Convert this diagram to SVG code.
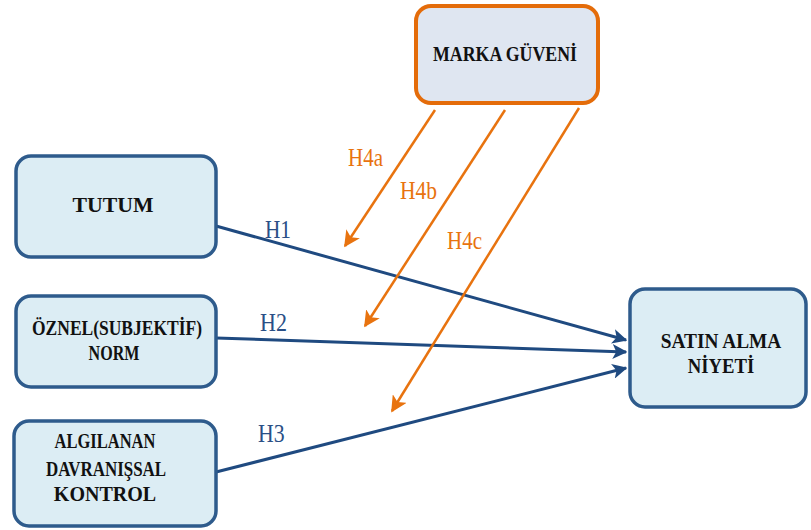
<svg xmlns="http://www.w3.org/2000/svg" width="811" height="530" viewBox="0 0 811 530">
<defs>
<style>
.box{fill:#dcedf4;stroke:#2e5b8c;stroke-width:3.5}
.obox{fill:#dfe6f1;stroke:#e46c0a;stroke-width:4}
.bl{stroke:#1f4a80;stroke-width:3;fill:none}
.ol{stroke:#e8730f;stroke-width:2.5;fill:none}
.t{font-family:"Liberation Serif",serif;font-weight:bold;font-size:22px;fill:#111;text-anchor:middle}
.lb{font-family:"Liberation Serif",serif;font-size:25px;fill:#2a4f86}
.lo{font-family:"Liberation Serif",serif;font-size:25px;fill:#e8730f}
</style>
<marker id="ab" viewBox="0 0 10 10" refX="9" refY="5" markerWidth="5" markerHeight="5" orient="auto" markerUnits="strokeWidth"><path d="M0,0 L10,5 L0,10 L2.5,5 z" fill="#1f4a80"/></marker>
<marker id="ao" viewBox="0 0 10 10" refX="9" refY="5" markerWidth="6.5" markerHeight="6.5" orient="auto" markerUnits="strokeWidth"><path d="M0,0 L10,5 L0,10 L2.5,5 z" fill="#e8730f"/></marker>
</defs>
<g id="connectors">
<line class="bl" x1="216" y1="226" x2="626" y2="340" marker-end="url(#ab)"/>
<line class="bl" x1="216" y1="338" x2="626" y2="352" marker-end="url(#ab)"/>
<line class="bl" x1="216" y1="472" x2="626" y2="368" marker-end="url(#ab)"/>
<line class="ol" x1="435" y1="110" x2="345" y2="246" marker-end="url(#ao)"/>
<line class="ol" x1="505" y1="110" x2="365" y2="326" marker-end="url(#ao)"/>
<line class="ol" x1="579" y1="108" x2="392" y2="411" marker-end="url(#ao)"/>
<text class="lb" transform="translate(265,238) scale(0.85,1)">H1</text>
<text class="lb" transform="translate(260,331) scale(0.88,1)">H2</text>
<text class="lb" transform="translate(258,442) scale(0.87,1)">H3</text>
<text class="lo" transform="translate(348,166) scale(0.84,1)">H4a</text>
<text class="lo" transform="translate(400,199) scale(0.86,1)">H4b</text>
<text class="lo" transform="translate(447,249) scale(0.84,1)">H4c</text>
</g>
<g id="marka">
<rect class="obox" x="416" y="6" width="182" height="97" rx="15"/>
<text class="t" transform="translate(505,61) scale(0.81,1)">MARKA GÜVENİ</text>
</g>
<g id="tutum">
<rect class="box" x="16" y="156" width="200" height="101" rx="15"/>
<text class="t" transform="translate(113,212) scale(0.99,1)">TUTUM</text>
</g>
<g id="oznel">
<rect class="box" x="16" y="296" width="200" height="91" rx="15"/>
<text class="t" transform="translate(117,335) scale(0.795,1)">ÖZNEL(SUBJEKTİF)</text>
<text class="t" transform="translate(114,360) scale(0.73,1)">NORM</text>
</g>
<g id="algilanan">
<rect class="box" x="14" y="421" width="202" height="105" rx="15"/>
<text class="t" transform="translate(105,448) scale(0.75,1)">ALGILANAN</text>
<text class="t" transform="translate(106,476) scale(0.77,1)">DAVRANIŞSAL</text>
<text class="t" transform="translate(105,501) scale(0.91,1)">KONTROL</text>
</g>
<g id="satin">
<rect class="box" x="630" y="289" width="176" height="118" rx="15"/>
<text class="t" transform="translate(721,348) scale(0.88,1)">SATIN ALMA</text>
<text class="t" transform="translate(721,373) scale(0.85,1)">NİYETİ</text>
</g>
</svg>
